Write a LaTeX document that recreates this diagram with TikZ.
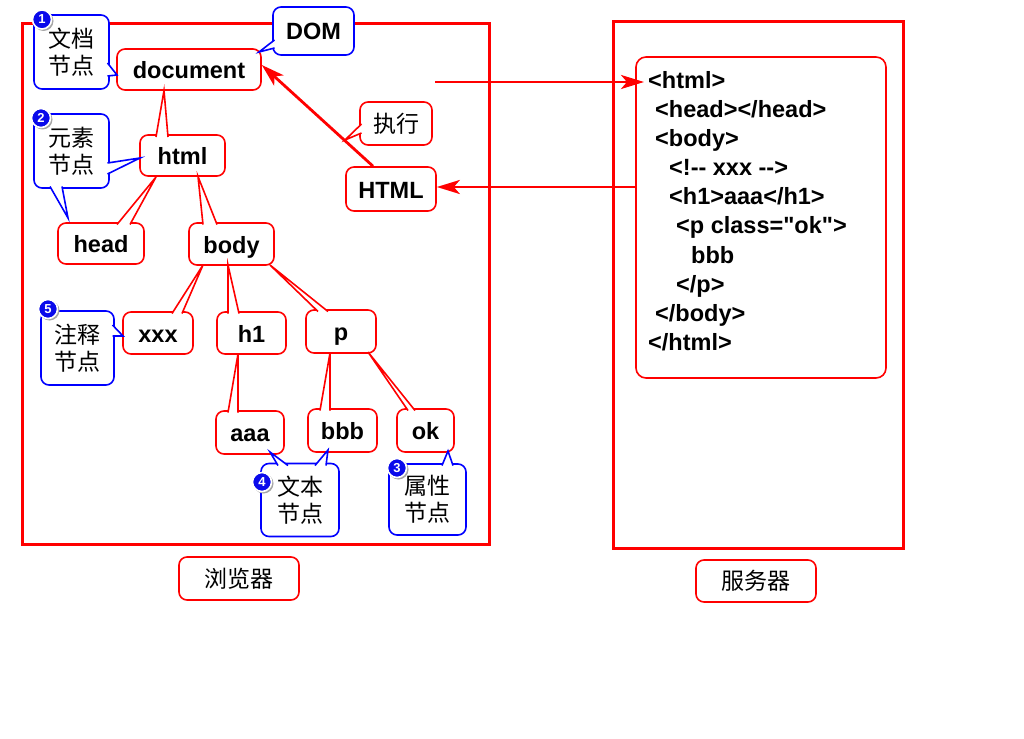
\documentclass[tikz,border=0pt]{standalone}
\usepackage{fontspec}
\setmainfont{Liberation Sans}
\newfontfamily\arialb{Liberation Sans}[Ligatures=TeXOff]
\newfontfamily\cjk{Noto Sans CJK SC}
\usetikzlibrary{arrows.meta,calc}
\tikzset{
 tnode/.style={draw=red, line width=1.6pt, rounded corners=8pt, fill=white, inner sep=0pt,
   font=\arialb\bfseries\fontsize{23.5}{27}\selectfont, text height=22pt, text depth=4pt},
 bnote/.style={draw=blue, line width=1.6pt, rounded corners=8pt, fill=white, inner sep=0pt,
   align=center, font=\cjk\fontsize{23}{27}\selectfont},
 rnote/.style={bnote, draw=red},
 badge/.style={circle, fill={rgb,255:red,10;green,10;blue,235}, draw=white, line width=1.6pt,
   minimum size=19pt, inner sep=0pt, text=white, font=\arialb\bfseries\fontsize{13}{13}\selectfont},
 bshadow/.style={circle, fill=black!35, minimum size=20pt, inner sep=0pt},
 frame/.style={draw=red, line width=3pt},
 arr/.style={draw=red, line width=2.8pt, -{Stealth[length=23pt,width=14pt,inset=6pt]}},
 codeline/.style={anchor=base west, inner sep=0pt, font=\arialb\bfseries\fontsize{23.5}{27}\selectfont},
}
\newcommand\mytail[4]{\fill[white] #2 -- #4 -- #3 -- cycle; \draw[#1,line width=1.6pt,line join=miter] #2 -- #4 -- #3;}
\begin{document}
\begin{tikzpicture}[x=1pt,y=-1pt]
\useasboundingbox (0,0) rectangle (1024,738);
\fill[white] (0,0) rectangle (1024,738);
% frames
\draw[frame] (22.5,24) rectangle (489,544.5);
\draw[frame] (613,22) rectangle (903,548);
% code box
\node[draw=red, line width=1.6pt, rounded corners=10pt, minimum width=250pt, minimum height=321pt, inner sep=0pt] (code) at (761,217.5) {};
\node[codeline] (l1) at (648,88.4) {<html>};
\node[codeline] (l2) at (655,117.5) {<head></head>};
\node[codeline] (l3) at (655,146.6) {<body>};
\node[codeline] (l4) at (669,175.7) {<!-- xxx -->};
\node[codeline] (l5) at (669,204.8) {<h1>aaa</h1>};
\node[codeline] (l6) at (676,233.9) {<p class="ok">};
\node[codeline] (l7) at (691,263) {bbb};
\node[codeline] (l8) at (676,292.1) {</p>};
\node[codeline] (l9) at (655,321.2) {</body>};
\node[codeline] (l10) at (648,350.3) {</html>};
% tree nodes
\node[tnode, minimum width=144pt, minimum height=41pt] (document) at (189,69.5) {document};
\node[tnode, minimum width=85pt, minimum height=41pt] (html) at (182.5,155.5) {html};
\node[tnode, minimum width=86pt, minimum height=41pt] (head) at (101,243.5) {head};
\node[tnode, minimum width=85pt, minimum height=42pt] (body) at (231.5,244) {body};
\node[tnode, minimum width=70pt, minimum height=42pt] (xxx) at (158,333) {xxx};
\node[tnode, minimum width=69pt, minimum height=42pt] (h1) at (251.5,333) {h1};
\node[tnode, minimum width=70pt, minimum height=43pt] (p) at (341,331.5) {p};
\node[tnode, minimum width=68pt, minimum height=43pt] (aaa) at (250,432.5) {aaa};
\node[tnode, minimum width=69pt, minimum height=43pt] (bbb) at (342.5,430.5) {bbb};
\node[tnode, minimum width=57pt, minimum height=43pt] (ok) at (425.5,430.5) {ok};
\node[tnode, minimum width=90pt, minimum height=44pt] (HTML) at (391,189) {HTML};
\node[rnote, minimum width=72pt, minimum height=43pt] (exec) at (396,123.5) {执行};
\node[bnote, minimum width=81pt, minimum height=48pt, font=\arialb\bfseries\fontsize{23.5}{27}\selectfont, text height=22pt, text depth=4pt] (DOM) at (313.5,31) {DOM};
% notes
\node[bnote, minimum width=75pt, minimum height=74pt] (docnote) at (71.5,52) {文档\\节点};
\node[bnote, minimum width=75pt, minimum height=74pt] (elemnote) at (71.5,151) {元素\\节点};
\node[bnote, minimum width=73pt, minimum height=74pt] (comnote) at (77.5,348) {注释\\节点};
\node[bnote, minimum width=78pt, minimum height=73pt] (textnote) at (300,500) {文本\\节点};
\node[bnote, minimum width=77pt, minimum height=71pt] (attrnote) at (427.5,499.5) {属性\\节点};
\node[rnote, minimum width=120pt, minimum height=43pt] (browser) at (239,578.5) {浏览器};
\node[rnote, minimum width=120pt, minimum height=42pt] (server) at (756,581) {服务器};
% red tails
\mytail{red}{(156,137)}{(168,137)}{(164,90.5)}
\mytail{red}{(117,224.5)}{(130,224.5)}{(156,177)}
\mytail{red}{(203,224.5)}{(217,224.5)}{(198,176.5)}
\mytail{red}{(172,313.5)}{(182,313.5)}{(203,265)}
\mytail{red}{(228,313.5)}{(239,313.5)}{(228,265)}
\mytail{red}{(318,311.5)}{(328,311.5)}{(270,265)}
\mytail{red}{(228,412.5)}{(238,412.5)}{(238,354)}
\mytail{red}{(320,410.5)}{(330,410.5)}{(330,353)}
\mytail{red}{(408,410.5)}{(415,410.5)}{(368,352)}
\mytail{red}{(361.5,124)}{(361.5,133)}{(345,140)}
% blue tails
\mytail{blue}{(107.5,63)}{(107.5,76)}{(117,75)}
\mytail{blue}{(107.5,163)}{(107.5,174)}{(140,158)}
\mytail{blue}{(50,186.5)}{(62,186.5)}{(68,218)}
\mytail{blue}{(274.5,40)}{(274.5,48)}{(259,52)}
\mytail{blue}{(112.5,325)}{(112.5,336)}{(123,336)}
\mytail{blue}{(278,465.5)}{(288,465.5)}{(270,452)}
\mytail{blue}{(315,465.5)}{(326,465.5)}{(328,450)}
\mytail{blue}{(442,465.5)}{(453,465.5)}{(448,451)}
% arrows
\draw[arr] ($(HTML.north)+(-18,0)$) -- ($(document.east)+(0,-4.5)$);
\coordinate (src) at (435,82);
\draw[arr] (src) -- ($(l1.west |- src)+(-4,0)$);
\draw[arr] (code.west |- 0,187) -- (HTML.east |- 0,187);
% badges
\foreach \n/\x/\y in {1/42/19.5, 2/41/118, 3/397/468, 4/262/482, 5/48/309}{
  \node[bshadow] (s\n) at (\x+1.5,\y+1.5) {};
  \node[badge] (b\n) at (\x,\y) {\n};
}
\end{tikzpicture}
\end{document}
